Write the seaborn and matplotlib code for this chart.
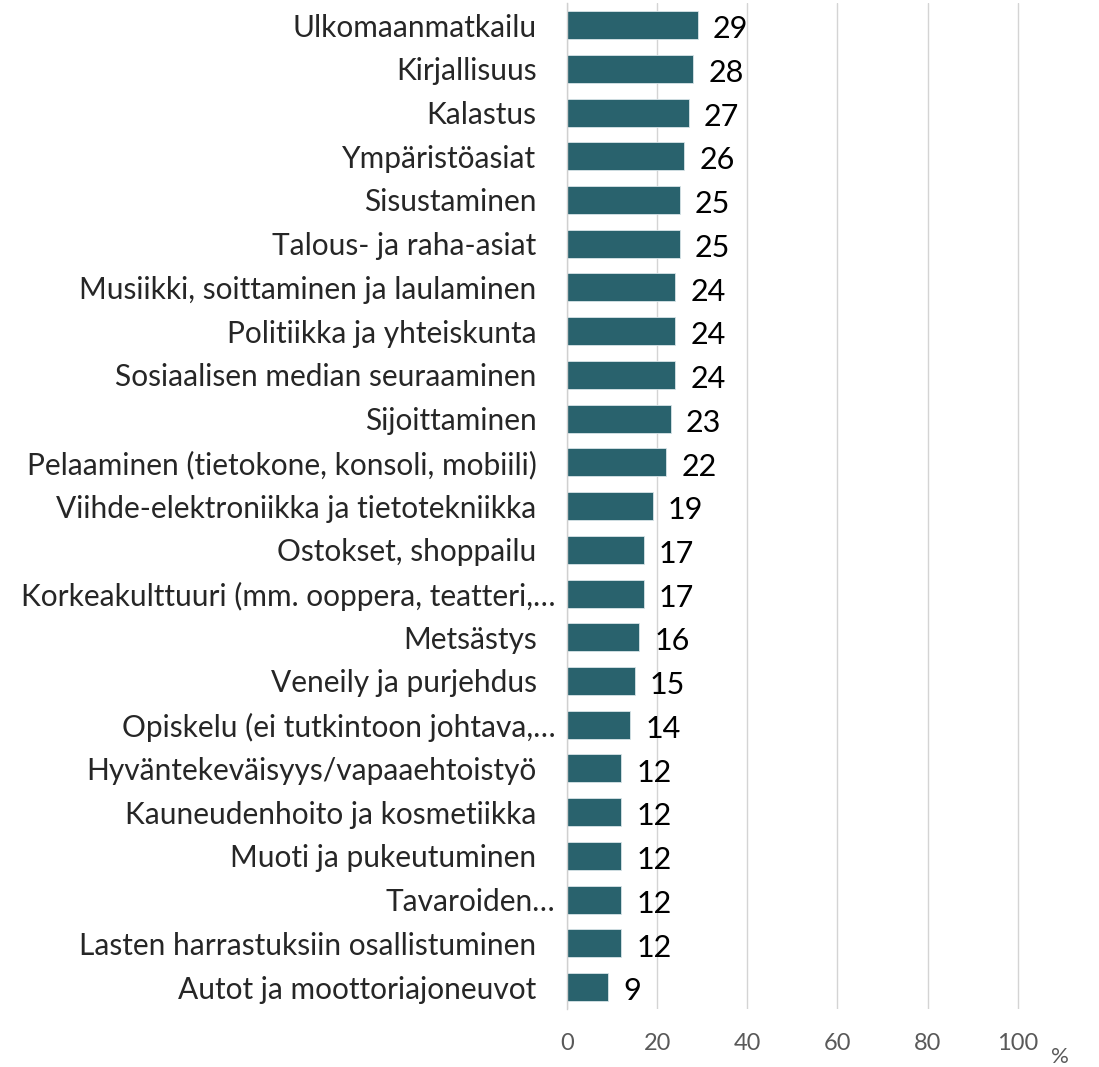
import matplotlib
matplotlib.use("Agg")
import matplotlib.pyplot as plt
from matplotlib.transforms import ScaledTranslation
import seaborn as sns
import pandas as pd

categories = [
    "Ulkomaanmatkailu",
    "Kirjallisuus",
    "Kalastus",
    "Ympäristöasiat",
    "Sisustaminen",
    "Talous- ja raha-asiat",
    "Musiikki, soittaminen ja laulaminen",
    "Politiikka ja yhteiskunta",
    "Sosiaalisen median seuraaminen",
    "Sijoittaminen",
    "Pelaaminen (tietokone, konsoli, mobiili)",
    "Viihde-elektroniikka ja tietotekniikka",
    "Ostokset, shoppailu",
    "Korkeakulttuuri (mm. ooppera, teatteri,…",
    "Metsästys",
    "Veneily ja purjehdus",
    "Opiskelu (ei tutkintoon johtava,…",
    "Hyväntekeväisyys/vapaaehtoistyö",
    "Kauneudenhoito ja kosmetiikka",
    "Muoti ja pukeutuminen",
    "Tavaroiden…",
    "Lasten harrastuksiin osallistuminen",
    "Autot ja moottoriajoneuvot",
]
values = [29, 28, 27, 26, 25, 25, 24, 24, 24, 23, 22, 19, 17, 17, 16, 15, 14, 12, 12, 12, 12, 12, 9]
x_ticks = [0, 20, 40, 60, 80, 100]
unit_label = "%"

sns.set_theme(style="white")
plt.rcParams["font.family"] = ["Lato", "DejaVu Sans"]

df = pd.DataFrame({"cat": categories, "val": values})

fig = plt.figure(figsize=(10.99, 10.67), dpi=100)
ax = fig.add_axes([0.516, 0.0544, 0.410 * 1.02, 0.9426])

sns.barplot(data=df, x="val", y="cat", orient="h", color="#29626D",
            width=0.64, edgecolor="#d8e4e8", linewidth=0.6, ax=ax, saturation=1)

ax.set_xlim(0, 102)
ax.set_ylim(len(categories) - 0.5, -0.5)
ax.set_xticks(x_ticks)
ax.set_xticklabels([str(t) for t in x_ticks], fontsize=17, color="#595959")
ax.tick_params(axis="x", length=0, pad=17)
ax.tick_params(axis="y", length=0, pad=22, labelsize=21.5, labelcolor="#262626")
ax.set_xlabel("")
ax.set_ylabel("")
ax.grid(axis="x", color="#d4d4d4", linewidth=1)
ax.set_axisbelow(True)
for s in ["top", "right", "bottom"]:
    ax.spines[s].set_visible(False)
ax.spines["left"].set_color("#d0d0d0")
ax.spines["left"].set_linewidth(1)

shift = ScaledTranslation(19 / 100, 0, fig.dpi_scale_trans)
for lbl in ax.get_yticklabels():
    if lbl.get_text().endswith("…"):
        lbl.set_transform(lbl.get_transform() + shift)

for i, v in enumerate(values):
    ax.annotate(str(v), xy=(v, i), xytext=(11, -3), textcoords="offset points",
                ha="left", va="center", fontsize=22, color="black")

fig.text(1060 / 1099, 1 - 1057 / 1067, unit_label, fontsize=16, color="#595959",
         ha="center", va="center")

fig.savefig("out.png", dpi=100)
